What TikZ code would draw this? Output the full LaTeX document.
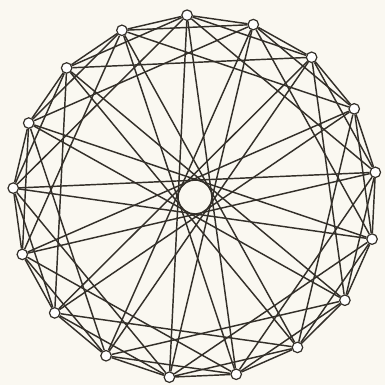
\documentclass[tikz,border=0pt]{standalone}
\definecolor{linecol}{HTML}{332F29}
\definecolor{bgcol}{HTML}{FAF8F1}
\begin{document}
\begin{tikzpicture}[x=1pt,y=1pt,
  edge/.style={draw=linecol, line width=1.45pt},
  vert/.style={circle, draw=linecol, fill=white, line width=1.2pt, minimum size=10.5pt, inner sep=0pt}]
\fill[bgcol] (0,0) rectangle (385,385);
\useasboundingbox (0,0) rectangle (385,385);
\foreach \i in {0,...,16} {
  \node[vert] (v\i) at ({195+182*cos(92.5-\i*360/17)},{188+182*sin(92.5-\i*360/17)}) {};
}
\foreach \i in {0,...,16} {
  \foreach \k in {1,2,4,8} {
    \pgfmathtruncatemacro\j{mod(\i+\k,17)}
    \draw[edge] (v\i) -- (v\j);
  }
}
\end{tikzpicture}
\end{document}
